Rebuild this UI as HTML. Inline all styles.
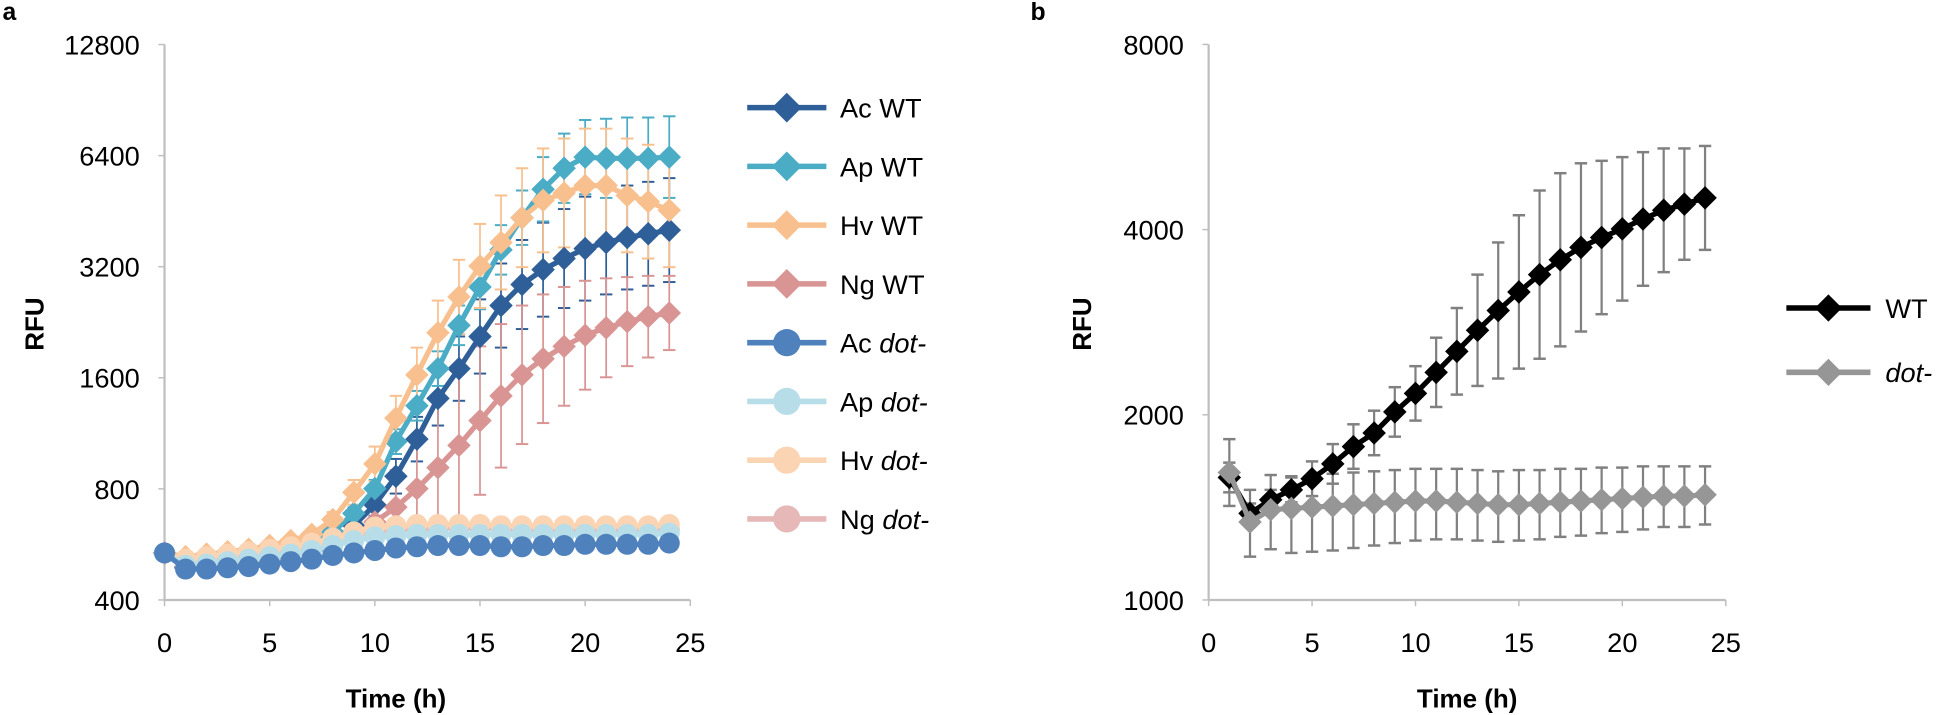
<!DOCTYPE html>
<html><head><meta charset="utf-8"><style>
html,body{margin:0;padding:0;background:#fff;}
svg{display:block;}
text{font-family:"Liberation Sans",Arial,sans-serif;}
</style></head><body>
<svg id="s" width="1941" height="715" viewBox="0 0 1569 578" preserveAspectRatio="none" xmlns="http://www.w3.org/2000/svg">
<rect width="1569" height="578" fill="#fff"/>
<text x="2" y="16" font-size="20" font-weight="bold">a</text>
<text x="833" y="16" font-size="20" font-weight="bold">b</text>
<text transform="translate(35,262) rotate(-90)" font-size="21" font-weight="bold" text-anchor="middle">RFU</text>
<text transform="translate(882,262) rotate(-90)" font-size="21" font-weight="bold" text-anchor="middle">RFU</text>
<text x="320" y="572" font-size="21" font-weight="bold" text-anchor="middle">Time (h)</text>
<text x="1186" y="572" font-size="21" font-weight="bold" text-anchor="middle">Time (h)</text>
<g id="g"></g>
</svg>
<script>
var g=document.getElementById('g'),h='';
function L(x1,y1,x2,y2,c,w){h+='<line x1="'+x1+'" y1="'+y1+'" x2="'+x2+'" y2="'+y2+'" stroke="'+c+'" stroke-width="'+w+'"/>';}
function T(x,y,s,a,sz,st){h+='<text x="'+x+'" y="'+y+'" font-size="'+(sz||22)+'" text-anchor="'+(a||'middle')+'"'+(st||'')+'>'+s+'</text>';}
function D(x,y,r,c){h+='<polygon points="'+x+','+(y-r)+' '+(x+r)+','+y+' '+x+','+(y+r)+' '+(x-r)+','+y+'" fill="'+c+'"/>';}
function C(x,y,r,c){h+='<circle cx="'+x+'" cy="'+y+'" r="'+r+'" fill="'+c+'"/>';}
var ax=133,ab=485;
L(ax,36,ax,ab,'#BFBFBF',1.8);L(ax,ab,558,ab,'#BFBFBF',1.8);
var yl=['400','800','1600','3200','6400','12800'];
for(var i=0;i<6;i++){var y=485-89.8*i;L(ax-5,y,ax,y,'#BFBFBF',1.2);T(113,y+8,yl[i],'end');}
for(var i=0;i<=5;i++){var x=ax+i*85;L(x,ab,x,ab+5,'#BFBFBF',1.2);T(x,ab+42,String(i*5));}
var bx=977;
L(bx,36,bx,ab,'#BFBFBF',1.8);L(bx,ab,1395,ab,'#BFBFBF',1.8);
var yb=['1000','2000','4000','8000'];
for(var i=0;i<4;i++){var y=485-149.7*i;L(bx-5,y,bx,y,'#BFBFBF',1.2);T(957,y+8,yb[i],'end');}
for(var i=0;i<=5;i++){var x=bx+i*83.6;L(x,ab,x,ab+5,'#BFBFBF',1.2);T(x,ab+42,String(i*5));}
function XA(t){return ax+17*t;}
var S=[
 {c:'#2F5F98',m:'d',y:[447,459,458,456,454,451,448,445,438,425,408,385,355,322,298,272,247,230,218,209,201,196,192,189,186],e:[0,2,2,2,2,2,3,3,4,6,9,14,18,22,26,30,34,36,38,40,42,42,42,42,42]},
 {c:'#4BACC6',m:'d',y:[447,455,453,451,449,446,443,438,430,415,395,357,328,298,263,232,202,176,153,136,127,128,128,128,127],e:[0,2,2,2,2,2,3,3,4,5,7,10,12,14,16,18,20,22,26,28,30,32,33,33,33]},
 {c:'#F9C08F',m:'d',y:[447,450,448,446,444,441,437,432,420,398,375,338,303,269,240,215,196,176,162,156,150,150,158,163,170],e:[0,2,2,2,2,2,3,4,6,10,14,18,22,26,30,34,38,40,42,44,46,46,46,46,46]},
 {c:'#D99594',m:'d',y:[447,458,457,455,453,451,448,444,440,433,422,410,395,378,360,340,320,303,290,280,271,265,260,256,253],e:[0,2,2,2,2,3,3,4,6,10,18,30,42,52,58,60,58,56,52,48,44,40,36,33,30]},
 {c:'#E6B9B8',m:'c',y:[447,456,454,452,450,448,446,443,440,434,430,428,428,427,427,427,427,428,428,428,428,428,428,428,428],e:[]},
 {c:'#FBD4B4',m:'c',y:[447,452,450,448,446,444,442,439,435,430,426,425,424,424,424,424,425,425,425,425,425,425,425,425,424],e:[]},
 {c:'#B7DEE8',m:'c',y:[447,457,456,454,452,450,448,445,441,437,434,433,432,432,432,432,432,432,432,432,432,432,432,432,431],e:[]},
 {c:'#4F81BD',m:'c',y:[447,460,460,459,458,456,454,452,449,447,445,443,442,441,441,441,442,442,441,441,440,440,440,440,439],e:[]}
];
S.forEach(function(s){s.e.forEach(function(e,i){if(e<3)return;var x=XA(i),y=s.y[i];L(x,y-e,x,y+e,s.c,1.4);L(x-5,y-e,x+5,y-e,s.c,1.6);L(x-5,y+e,x+5,y+e,s.c,1.6);});});
S.forEach(function(s){var p=s.y.map(function(y,i){return XA(i)+','+y;}).join(' ');
 h+='<polyline points="'+p+'" fill="none" stroke="'+s.c+'" stroke-width="4.2" stroke-linejoin="round"/>';
 s.y.forEach(function(y,i){if(s.m=='d')D(XA(i),y,9.5,s.c);else C(XA(i),y,8.5,s.c);});});
var names=['Ac WT','Ap WT','Hv WT','Ng WT','Ac <tspan font-style="italic">dot-</tspan>','Ap <tspan font-style="italic">dot-</tspan>','Hv <tspan font-style="italic">dot-</tspan>','Ng <tspan font-style="italic">dot-</tspan>'];
var lc=['#2F5F98','#4BACC6','#F9C08F','#D99594','#4F81BD','#B7DEE8','#FBD4B4','#E6B9B8'];
for(var i=0;i<8;i++){var y=87+47.5*i;L(604,y,668,y,lc[i],4.5);if(i<4)D(636,y,12,lc[i]);else C(636,y,11,lc[i]);T(679,y+8,names[i],'start');}
function XB(t){return bx+16.72*t;}
var W=[0,386,415,404,396,387,375,361,350,333,318,301,284,267,251,236,222,210,200,192,185,177,170,165,160];
var We=[0,12,8,8,10,14,16,18,18,20,22,28,35,45,55,62,68,70,68,62,58,54,50,45,42];
var G=[0,382,422,412,411,410,409,408,407,406,405,405,406,407,408,408,407,406,405,404,403,402,401,401,400];
var Gu=[0,27,26,28,26,26,26,26,26,26,26,26,27,27,27,28,27,27,26,26,25,25,24,24,23];
var Gd=[0,27,28,32,36,36,36,35,34,33,32,31,30,30,30,29,29,28,28,27,27,26,25,25,24];
for(var i=1;i<=24;i++){var x=XB(i);L(x,W[i]-We[i],x,W[i]+We[i],'#808080',1.8);L(x-5,W[i]-We[i],x+5,W[i]-We[i],'#808080',2);L(x-5,W[i]+We[i],x+5,W[i]+We[i],'#808080',2);}
for(var i=1;i<=24;i++){var x=XB(i);L(x,G[i]-Gu[i],x,G[i]+Gd[i],'#808080',1.8);L(x-5,G[i]-Gu[i],x+5,G[i]-Gu[i],'#808080',2);L(x-5,G[i]+Gd[i],x+5,G[i]+Gd[i],'#808080',2);}
var pw='',pg='';for(var i=1;i<=24;i++){pw+=XB(i)+','+W[i]+' ';pg+=XB(i)+','+G[i]+' ';}
h+='<polyline points="'+pw+'" fill="none" stroke="#000" stroke-width="4.2"/>';
for(var i=1;i<=24;i++)D(XB(i),W[i],9.5,'#000');
h+='<polyline points="'+pg+'" fill="none" stroke="#969696" stroke-width="4.2"/>';
for(var i=1;i<=24;i++)D(XB(i),G[i],9.5,'#969696');
L(1444,249,1512,249,'#000',4.5);D(1478,249,11,'#000');T(1524,257,'WT','start');
L(1444,301,1512,301,'#969696',4.5);D(1478,301,11,'#969696');T(1524,309,'dot-','start',22,' font-style="italic"');
g.innerHTML=h;
</script>
</body></html>
